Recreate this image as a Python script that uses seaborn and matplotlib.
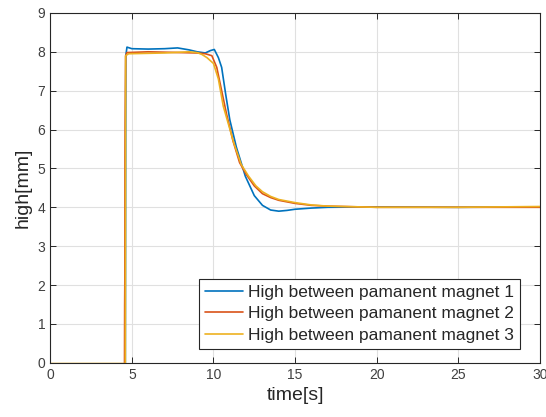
import pandas as pd
import matplotlib.pyplot as plt
import seaborn as sns

# ---- data ----
t1 = [0, 4.6, 4.63, 4.7, 5.0, 6.0, 7.0, 7.8, 8.5, 9.0, 9.5, 9.8, 10.05, 10.3, 10.5, 10.75,
      11.0, 11.4, 11.95, 12.5, 13.0, 13.5, 14.0, 14.5, 15.0, 16.0, 17.0, 20.0, 25.0, 30.0]
h1 = [-0.03, -0.03, 7.9, 8.12, 8.08, 8.07, 8.08, 8.1, 8.05, 8.0, 7.97, 8.03, 8.06, 7.85, 7.6, 6.9,
      6.25, 5.55, 4.8, 4.3, 4.05, 3.93, 3.9, 3.92, 3.95, 3.98, 4.0, 4.01, 4.0, 4.01]

t2 = [0, 4.55, 4.56, 4.57, 4.58, 4.59, 4.62, 4.7, 6.0, 8.0, 9.0, 9.5, 9.9, 10.2, 10.5, 10.8,
      11.2, 11.6, 12.0, 12.5, 13.0, 13.5, 14.0, 15.0, 16.0, 17.0, 20.0, 25.0, 30.0]
h2 = [-0.04, -0.04, 1.5, 2.1, 5.3, 6.2, 7.9, 7.98, 8.0, 7.98, 7.97, 7.95, 7.9, 7.6, 7.0, 6.4,
      5.7, 5.15, 4.85, 4.55, 4.35, 4.25, 4.18, 4.1, 4.05, 4.03, 4.0, 4.0, 4.0]

t3 = [0, 4.6, 4.62, 4.8, 7.0, 8.5, 9.0, 9.3, 9.6, 10.0, 10.3, 10.6, 11.25, 11.7, 12.15, 12.6,
      13.0, 13.5, 14.0, 15.0, 16.0, 17.0, 20.0, 25.0, 30.0]
h3 = [-0.02, -0.02, 7.9, 7.95, 7.97, 8.0, 7.98, 7.93, 7.85, 7.7, 7.3, 6.6, 5.65, 5.1, 4.8, 4.55,
      4.4, 4.28, 4.2, 4.12, 4.06, 4.03, 4.0, 4.0, 4.02]

labels = ['High between pamanent magnet 1',
          'High between pamanent magnet 2',
          'High between pamanent magnet 3']
colors = ['#0072BD', '#D95319', '#EDB120']

df = pd.concat([
    pd.DataFrame({'time': t, 'high': h, 'series': lab})
    for t, h, lab in zip([t1, t2, t3], [h1, h2, h3], labels)
], ignore_index=True)

sns.set_style('whitegrid')
plt.rcParams['font.family'] = ['Liberation Sans', 'DejaVu Sans']

fig = plt.figure(figsize=(5.46, 4.17), dpi=100)
ax = fig.add_axes([0.092, 0.13, 0.897, 0.839])

sns.lineplot(data=df, x='time', y='high', hue='series', palette=colors,
             estimator=None, sort=False, linewidth=1.2, ax=ax)

ax.set_xlim(0, 30)
ax.set_ylim(0, 9)
ax.set_xticks(range(0, 31, 5))
ax.set_yticks(range(0, 10))
ax.grid(True, color='#e0e0e0', linewidth=0.8)
for s in ax.spines.values():
    s.set_visible(True)
    s.set_color('#262626')
    s.set_linewidth(0.8)
ax.tick_params(direction='in', length=4, width=0.7, top=True, right=True,
               bottom=True, left=True, labelsize=10, labelcolor='#404040', color='#262626')
ax.set_xlabel('time[s]', fontsize=14, color='#262626')
ax.set_ylabel('high[mm]', fontsize=14, color='#262626')

leg = ax.legend(loc='lower right', bbox_to_anchor=(0.96, 0.04), borderaxespad=0,
                fontsize=12.5, frameon=True, fancybox=False, framealpha=1,
                handlelength=2.2, handletextpad=0.3, borderpad=0.35, labelspacing=0.35)
leg.get_frame().set_edgecolor('#262626')
leg.get_frame().set_linewidth(0.8)

fig.savefig('out.png', dpi=100)
